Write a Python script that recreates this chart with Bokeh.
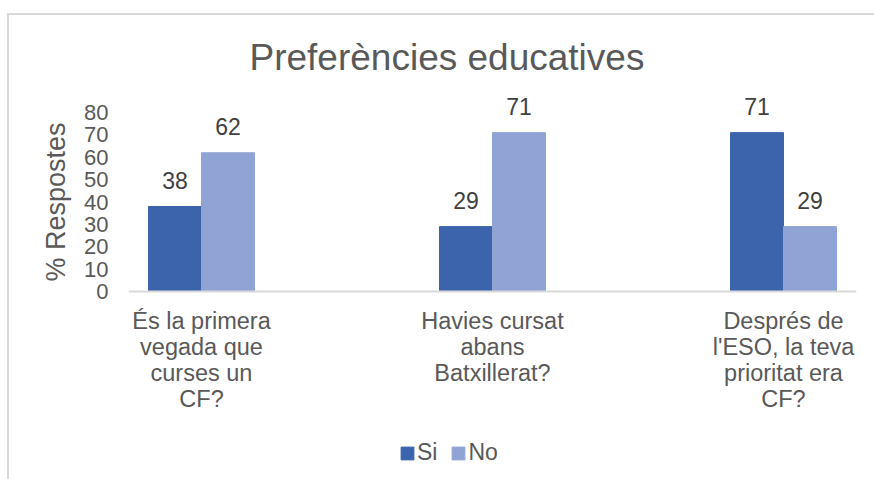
from bokeh.plotting import figure
from bokeh.models import (ColumnDataSource, Range1d, FixedTicker, Legend,
                          LegendItem, Title, Span)
from bokeh.core.properties import value
from bokeh.embed import file_html
from bokeh.resources import INLINE

# ---- data ----
categories = ["És la primera\nvegada que\ncurses un\nCF?",
              "Havies cursat\nabans\nBatxillerat?",
              "Després de\nl'ESO, la teva\nprioritat era\nCF?"]
si_values = [38, 29, 71]
no_values = [62, 71, 29]
series_names = ["Si", "No"]
y_ticks = [0, 10, 20, 30, 40, 50, 60, 70, 80]
title_text = "Preferències educatives"
y_title = "% Respostes"

# ---- styling / layout constants ----
FONT = "Liberation Sans"
GREY_TEXT = "#595959"
DARK_TEXT = "#404040"
SI_COLOR = "#3B64AD"
NO_COLOR = "#8FA3D4"
BORDER = "#D9D9D9"

W, H = 874, 479
FRAME_L, FRAME_R = 128, 856
FRAME_T, FRAME_B = 94, H
ZERO_Y, TOP_Y = 291, 112          # pixel rows of 0 and of the top tick
px_per_unit = (ZERO_Y - TOP_Y) / max(y_ticks)
px_per_cat = 291.0
pad = (201 - FRAME_L) / px_per_cat
bar_w = 53 / px_per_cat

n = len(categories)
centers = [i + 1 for i in range(n)]

y_end = (ZERO_Y - FRAME_T) / px_per_unit
y_start = -(FRAME_B - ZERO_Y) / px_per_unit

p = figure(width=W, height=H, output_backend="svg", toolbar_location=None,
           x_range=Range1d(1 - pad, n + pad), y_range=Range1d(y_start, y_end),
           x_axis_location=None,
           min_border_left=FRAME_L, min_border_right=W - FRAME_R,
           min_border_top=FRAME_T, min_border_bottom=0)
p.outline_line_color = None
p.grid.grid_line_color = None
p.background_fill_color = "white"
p.border_fill_color = None
p.styles = {
    "background-color": "white",
    "background-image": f"linear-gradient({BORDER},{BORDER}), linear-gradient({BORDER},{BORDER})",
    "background-size": "100% 2px, 2px 100%",
    "background-position": "7px 13px, 7px 13px",
    "background-repeat": "no-repeat",
}

src = ColumnDataSource(dict(
    x_si=[c - bar_w / 2 for c in centers],
    x_no=[c + bar_w / 2 for c in centers],
    si=si_values, no=no_values,
    si_txt=[str(v) for v in si_values], no_txt=[str(v) for v in no_values],
))

r_si = p.vbar(x="x_si", top="si", width=bar_w, source=src, fill_color=SI_COLOR,
              line_color=SI_COLOR)
r_no = p.vbar(x="x_no", top="no", width=bar_w, source=src, fill_color=NO_COLOR,
              line_color=NO_COLOR)

# category axis line
p.add_layout(Span(location=0, dimension="width", line_color=BORDER, line_width=2))

# data labels
for xcol, ycol, tcol in [("x_si", "si", "si_txt"), ("x_no", "no", "no_txt")]:
    p.text(x=xcol, y=ycol, text=tcol, source=src, y_offset=-26,
           text_align="center", text_baseline="alphabetic",
           text_font=value(FONT), text_font_size="23px", text_color=DARK_TEXT)

# category labels
cat_src = ColumnDataSource(dict(x=centers, y=[0] * n, label=categories))
p.text(x="x", y="y", text="label", source=cat_src, y_offset=16,
       text_align="center", text_baseline="top", text_line_height=1.01,
       text_font=value(FONT), text_font_size="23.5px", text_color=GREY_TEXT)

# y axis
ya = p.yaxis[0]
ya.ticker = FixedTicker(ticks=y_ticks)
ya.axis_line_color = None
ya.major_tick_line_color = None
ya.minor_tick_line_color = None
ya.major_tick_out = 0
ya.major_tick_in = 0
ya.major_label_standoff = 20
ya.major_label_text_font = FONT
ya.major_label_text_font_size = "22px"
ya.major_label_text_color = GREY_TEXT

p.add_layout(Title(text=y_title, text_font=FONT, text_font_size="27px",
                   text_font_style="normal", text_color=GREY_TEXT,
                   align="left", offset=FRAME_B - 281, standoff=22), "left")

# title
p.title = Title(text=title_text, text_font=FONT, text_font_size="37px",
                text_font_style="normal", text_color=GREY_TEXT, align="left",
                offset=121, standoff=34)

# legend
legend = Legend(items=[LegendItem(label=series_names[0], renderers=[r_si]),
                       LegendItem(label=series_names[1], renderers=[r_no])],
                orientation="horizontal", location=(271, 13),
                glyph_width=16, glyph_height=16, label_standoff=2, spacing=13,
                padding=0, margin=0, border_line_color=None,
                background_fill_alpha=0,
                label_text_font=FONT, label_text_font_size="23px",
                label_text_color=GREY_TEXT)
p.add_layout(legend, "center")

open("out.html", "w").write(file_html(p, INLINE))
